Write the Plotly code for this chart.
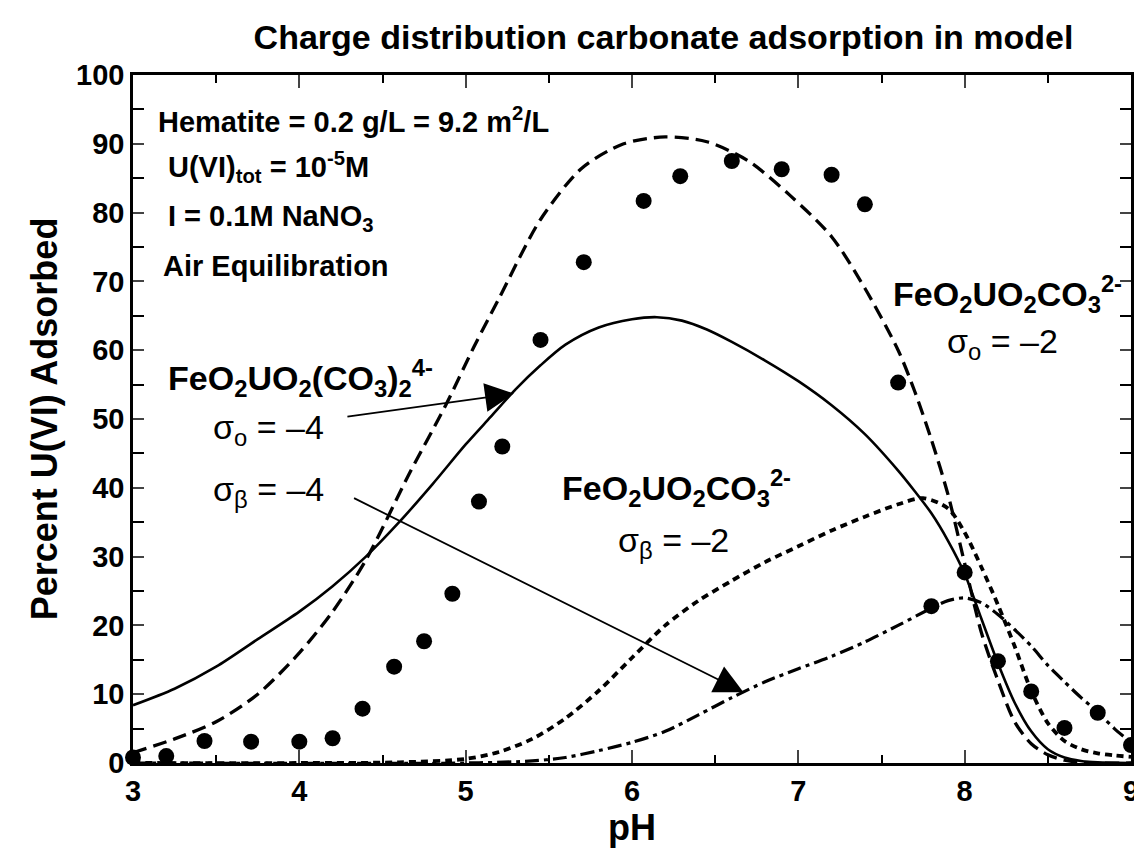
import plotly.graph_objects as go

# measured U(VI) adsorption (points)
pts_ph = [3.0, 3.2, 3.43, 3.71, 4.0, 4.2, 4.38, 4.57, 4.75, 4.92, 5.08, 5.22, 5.45, 5.71,
          6.07, 6.29, 6.6, 6.9, 7.2, 7.4, 7.6, 7.8, 8.0, 8.2, 8.4, 8.6, 8.8, 9.0]
pts_pct = [0.8, 1.0, 3.2, 3.1, 3.1, 3.6, 7.9, 14.0, 17.7, 24.6, 38.0, 46.0, 61.5, 72.8,
           81.7, 85.3, 87.5, 86.3, 85.5, 81.2, 55.3, 22.8, 27.7, 14.8, 10.4, 5.1, 7.3, 2.6]

# model: total adsorbed (dashed)
total_ph = [3.0, 3.25, 3.5, 3.75, 4.0, 4.2, 4.4, 4.66, 4.88, 5.05, 5.2, 5.45, 5.7, 5.95,
            6.2, 6.45, 6.7, 6.95, 7.2, 7.4, 7.6, 7.7, 7.8, 7.9, 8.0, 8.1, 8.2, 8.3, 8.4,
            8.5, 8.6, 8.7, 8.8, 9.0]
total_pct = [1.5, 3.5, 6.0, 10.0, 16.0, 22.0, 29.5, 42.0, 52.0, 60.5, 67.5, 79.0, 86.5, 90.0,
             91.0, 90.3, 87.5, 82.5, 76.5, 69.0, 60.0, 54.0, 47.0, 39.0, 29.0, 19.0, 12.0,
             6.0, 2.8, 1.2, 0.4, 0.1, 0.0, 0.0]

# FeO2UO2(CO3)2 4- (solid)
bis_ph = [3.0, 3.25, 3.5, 3.75, 4.0, 4.2, 4.4, 4.6, 4.8, 5.0, 5.15, 5.3, 5.45, 5.6, 5.8,
          6.0, 6.15, 6.3, 6.45, 6.6, 6.8, 7.0, 7.2, 7.4, 7.6, 7.7, 7.8, 7.9, 8.0, 8.1,
          8.2, 8.3, 8.4, 8.5, 8.6, 8.7, 8.8, 9.0]
bis_pct = [8.4, 10.8, 14.0, 18.0, 22.0, 25.7, 30.0, 35.0, 40.5, 46.3, 50.3, 54.3, 57.8, 60.8,
           63.3, 64.5, 64.8, 64.3, 63.0, 61.2, 58.5, 55.5, 52.0, 47.8, 42.5, 39.5, 36.3,
           32.3, 27.5, 21.0, 14.5, 8.8, 4.6, 2.0, 0.8, 0.3, 0.1, 0.0]

# FeO2UO2CO3 2-, sigma_beta = -2 (short dashes)
mono_b_ph = [3.0, 4.0, 4.6, 5.0, 5.2, 5.4, 5.6, 5.8, 6.0, 6.2, 6.4, 6.6, 6.8, 7.0, 7.2,
             7.4, 7.6, 7.75, 7.9, 8.0, 8.1, 8.2, 8.3, 8.4, 8.5, 8.6, 8.7, 8.8, 8.9, 9.0]
mono_b_pct = [0.0, 0.0, 0.1, 0.6, 1.6, 3.5, 6.5, 10.5, 15.3, 20.0, 23.6, 26.5, 29.2, 31.5,
              33.8, 35.8, 37.6, 38.5, 37.0, 33.5, 28.5, 23.0, 17.0, 10.5, 5.8, 3.2, 2.0,
              1.4, 1.1, 0.9]

# FeO2UO2CO3 2-, sigma_o = -2 (dash-dot)
mono_o_ph = [3.0, 5.0, 5.4, 5.6, 5.8, 6.0, 6.2, 6.4, 6.6, 6.8, 7.0, 7.2, 7.4, 7.6, 7.8,
             7.9, 8.0, 8.1, 8.2, 8.3, 8.4, 8.5, 8.6, 8.7, 8.8, 8.9, 9.0]
mono_o_pct = [0.0, 0.0, 0.3, 0.8, 1.8, 3.0, 4.6, 7.0, 9.5, 11.8, 13.7, 15.5, 17.6, 20.0,
              22.5, 23.6, 24.0, 23.3, 21.6, 19.4, 17.0, 14.2, 11.8, 9.5, 7.4, 5.0, 3.0]

FONT = "Liberation Sans, Arial, sans-serif"

fig = go.Figure()

curves = [
    (total_ph, total_pct, "14px,7px", 3.3),
    (bis_ph, bis_pct, "solid", 2.6),
    (mono_b_ph, mono_b_pct, "7px,5px", 3.8),
    (mono_o_ph, mono_o_pct, "14px,5px,4px,5px", 3.2),
]
for xs, ys, dash, w in curves:
    fig.add_trace(go.Scatter(
        x=xs, y=ys, mode="lines",
        line=dict(color="black", width=w, dash=dash, shape="spline", smoothing=0.8),
        showlegend=False,
    ))

fig.add_trace(go.Scatter(
    x=pts_ph, y=pts_pct, mode="markers",
    marker=dict(size=16, color="black"),
    cliponaxis=False, showlegend=False,
))

ann = []


def txt(x, y, s, size, xanchor="left"):
    ann.append(dict(x=x, y=y, xref="x", yref="y", text=s, showarrow=False,
                    xanchor=xanchor, yanchor="middle",
                    font=dict(family=FONT, size=size, color="black")))


txt(3.137, 93.4, "<b>Hematite = 0.2 g/L = 9.2 m<sup>2</sup>/L</b>", 29)
txt(3.197, 86.6, "<b>U(VI)<sub>tot</sub> = 10<sup>-5</sup>M</b>", 29)
txt(3.197, 79.2, "<b>I = 0.1M NaNO<sub>3</sub></b>", 29)
txt(3.167, 72.3, "<b>Air Equilibration</b>", 29)

txt(3.197, 56.0, "<b>FeO<sub>2</sub>UO<sub>2</sub>(CO<sub>3</sub>)<sub>2</sub><sup>4-</sup></b>", 34)
txt(4.163, 48.5, "σ<sub>o</sub> = –4", 34, "right")
txt(4.163, 39.5, "σ<sub>β</sub> = –4", 34, "right")

txt(6.27, 39.9, "<b>FeO<sub>2</sub>UO<sub>2</sub>CO<sub>3</sub><sup>2-</sup></b>", 34, "center")
txt(6.25, 32.0, "σ<sub>β</sub> = –2", 34, "center")

txt(8.26, 68.2, "<b>FeO<sub>2</sub>UO<sub>2</sub>CO<sub>3</sub><sup>2-</sup></b>", 34, "center")
txt(8.23, 61.0, "σ<sub>o</sub> = –2", 34, "center")

# arrows
for (tx, ty, hx, hy) in [(4.28, 50.3, 5.29, 53.7), (4.32, 38.6, 6.67, 10.3)]:
    ann.append(dict(x=hx, y=hy, ax=tx, ay=ty, xref="x", yref="y", axref="x", ayref="y",
                    text="", showarrow=True, arrowhead=2, arrowsize=3.2, arrowwidth=1.8,
                    arrowcolor="black"))

fig.update_layout(
    width=1142, height=855,
    margin=dict(l=125, r=11, t=67, b=100),
    paper_bgcolor="white", plot_bgcolor="white",
    title=dict(text="<b>Charge distribution carbonate adsorption in model</b>",
               x=0.574, xanchor="center", y=0.966, yanchor="middle",
               font=dict(family=FONT, size=34, color="black")),
    annotations=ann,
    xaxis=dict(
        range=[3, 9], tickvals=[3, 4, 5, 6, 7, 8, 9], ticks="inside", ticklen=13, tickwidth=1.8,
        minor=dict(dtick=0.5, ticks="inside", ticklen=8, tickwidth=1.5, tickcolor="black"),
        showline=True, linecolor="black", linewidth=2.5, mirror="ticks",
        showgrid=False, zeroline=False,
        tickfont=dict(family=FONT, size=29, color="black", weight="bold"),
        title=dict(text="<b>pH</b>", standoff=4, font=dict(family=FONT, size=36, color="black")),
    ),
    yaxis=dict(
        range=[0, 100], dtick=10, ticks="inside", ticklen=11, tickwidth=1.8,
        minor=dict(dtick=5, ticks="inside", ticklen=11, tickwidth=1.5, tickcolor="black"),
        showline=True, linecolor="black", linewidth=2.5, mirror="ticks",
        showgrid=False, zeroline=False,
        tickfont=dict(family=FONT, size=29, color="black", weight="bold"),
        title=dict(text="<b>Percent U(VI) Adsorbed</b>", standoff=8,
                   font=dict(family=FONT, size=36, color="black")),
    ),
)

fig.write_html("out.html")
